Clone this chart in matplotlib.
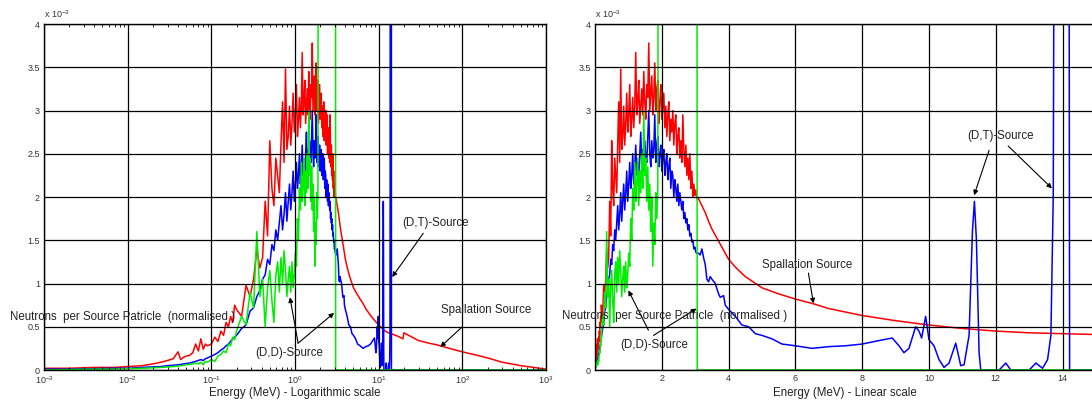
import matplotlib
matplotlib.use("Agg")
import matplotlib.pyplot as plt
from matplotlib.ticker import LogLocator, FuncFormatter, NullFormatter, MultipleLocator

plt.rcParams["font.family"] = ["Liberation Sans", "DejaVu Sans"]
plt.rcParams["mathtext.default"] = "regular"

# values are in units of 1e-3 (neutrons per source particle, normalised)
# energies in MeV; shared grid below 3.05 MeV
e_low = [0.001, 0.002, 0.004, 0.007, 0.01, 0.015, 0.02, 0.025,
         0.03, 0.035, 0.04, 0.043, 0.047, 0.05, 0.055, 0.06,
         0.065, 0.07, 0.075, 0.08, 0.085, 0.09, 0.1, 0.11,
         0.12, 0.13, 0.14, 0.15, 0.16, 0.17, 0.18, 0.19]

e_mid = [0.20, 0.23, 0.26, 0.29, 0.32, 0.35, 0.38, 0.41,
         0.44, 0.47, 0.50, 0.53, 0.56, 0.59, 0.62, 0.65,
         0.68, 0.71, 0.74, 0.77, 0.80, 0.83, 0.86, 0.89,
         0.92, 0.95, 0.98, 1.01, 1.04, 1.07, 1.10, 1.13,
         1.16, 1.19, 1.22, 1.25, 1.28, 1.31, 1.34, 1.37,
         1.40, 1.43, 1.46, 1.49, 1.52, 1.55, 1.58, 1.61,
         1.64, 1.67, 1.70, 1.73, 1.76, 1.79, 1.82, 1.85,
         1.88, 1.91, 1.94, 1.97, 2.00, 2.03, 2.06, 2.09,
         2.12, 2.15, 2.18, 2.21, 2.24, 2.27, 2.30, 2.33,
         2.36, 2.39, 2.42, 2.45, 2.48, 2.51, 2.54, 2.57,
         2.60, 2.63, 2.66, 2.69, 2.72, 2.75, 2.78, 2.81,
         2.84, 2.87, 2.90, 2.93, 2.96, 2.99, 3.02, 3.05]

# Spallation source (red)
red_low = [0.02, 0.02, 0.03, 0.03, 0.04, 0.05, 0.07, 0.09,
           0.11, 0.13, 0.21, 0.12, 0.15, 0.16, 0.17, 0.20,
           0.30, 0.22, 0.36, 0.24, 0.30, 0.28, 0.30, 0.38,
           0.33, 0.45, 0.40, 0.55, 0.50, 0.62, 0.55, 0.75]
red_mid = [0.70, 0.62, 0.98, 0.85, 1.05, 1.40, 1.18, 1.30,
           1.95, 1.55, 2.65, 2.10, 1.90, 2.45, 2.25, 2.05,
           2.62, 3.10, 2.40, 3.48, 2.55, 2.70, 3.05, 2.60,
           2.85, 3.20, 2.75, 2.95, 3.30, 2.70, 2.90, 3.15,
           2.80, 3.05, 3.67, 2.95, 3.10, 3.35, 2.85, 3.05,
           3.25, 2.95, 3.45, 3.10, 2.90, 3.30, 3.15, 3.78,
           3.00, 3.20, 3.40, 2.95, 3.15, 3.55, 3.00, 3.25,
           3.35, 2.85, 3.10, 3.30, 2.90, 3.05, 3.20, 2.80,
           3.05, 2.70, 2.95, 3.10, 2.65, 2.90, 2.75, 3.00,
           2.60, 2.85, 2.95, 2.50, 2.70, 2.80, 2.45, 2.65,
           2.40, 2.95, 2.55, 2.35, 2.60, 2.25, 2.45, 2.20,
           2.50, 2.10, 2.30, 2.00, 2.15, 2.02, 2.08, 1.98]
red_tail_e = [3.1, 3.2, 3.3, 3.4, 3.5, 3.6, 3.8, 4.0, 4.2, 4.5,
              5.0, 5.5, 6.0, 6.5, 7.0, 8.0, 9.0, 10, 11, 12, 13, 14, 15,
              17, 19.5, 20, 25, 30, 40, 50, 70,
              100, 150, 200, 300, 500, 700, 1000]
red_tail = [1.98, 1.90, 1.82, 1.72, 1.63, 1.56, 1.42, 1.28, 1.19, 1.08,
            0.95, 0.88, 0.82, 0.77, 0.71, 0.63, 0.57, 0.52, 0.48, 0.45, 0.43, 0.42, 0.41,
            0.39, 0.36, 0.43, 0.38, 0.34, 0.31, 0.29, 0.25,
            0.21, 0.17, 0.14, 0.09, 0.05, 0.03, 0.01]

# (D,T) source (blue)
blue_low = [0.01, 0.01, 0.015, 0.02, 0.02, 0.03, 0.035, 0.04,
            0.05, 0.055, 0.06, 0.065, 0.07, 0.075, 0.08, 0.09,
            0.10, 0.11, 0.12, 0.11, 0.13, 0.14, 0.16, 0.18,
            0.20, 0.23, 0.25, 0.28, 0.30, 0.33, 0.36, 0.38]
blue_mid = [0.40, 0.48, 0.52, 0.68, 0.72, 0.85, 0.92, 1.05,
            1.10, 1.28, 1.22, 1.45, 1.38, 1.62, 1.50, 1.70,
            1.90, 1.62, 1.80, 2.05, 1.72, 1.95, 2.15, 1.85,
            2.05, 2.30, 1.95, 2.15, 2.40, 2.10, 2.25, 2.50,
            2.15, 2.35, 2.60, 2.25, 2.40, 2.20, 2.50, 2.75,
            2.35, 2.55, 2.30, 2.65, 2.45, 2.40, 2.70, 3.00,
            2.50, 2.35, 2.65, 2.45, 2.55, 2.95, 2.40, 2.60,
            2.70, 2.35, 2.50, 2.60, 2.30, 2.45, 2.55, 2.25,
            2.40, 2.50, 2.20, 2.35, 2.45, 2.10, 2.30, 2.25,
            2.00, 2.20, 2.10, 1.95, 2.15, 1.90, 2.05, 1.95,
            1.85, 1.95, 1.75, 1.82, 1.70, 1.75, 1.62, 1.68,
            1.55, 1.58, 1.48, 1.50, 1.40, 1.42, 1.36, 1.35]
blue_tail_e = [3.1, 3.15, 3.2, 3.25, 3.3, 3.35, 3.4, 3.45, 3.5, 3.6,
               3.7, 3.75, 3.85, 3.9, 4.0, 4.2, 4.4, 4.6, 4.8, 5.0,
               5.3, 5.6, 6.0, 6.5, 7.0, 7.5, 8.0, 8.5, 8.9, 9.1,
               9.25, 9.4, 9.6, 9.7, 9.78, 9.9, 10.0, 10.15, 10.3, 10.45,
               10.6, 10.8, 10.95, 11.05, 11.2, 11.3, 11.36, 11.42, 11.5, 11.55,
               12.1, 12.3, 12.45, 13.0, 13.2, 13.4, 13.55, 13.65, 13.72, 13.78,
               14.18, 14.21, 1000]
blue_tail = [1.35, 1.33, 1.40, 1.30, 1.22, 1.05, 1.02, 1.08, 1.05, 1.00,
             0.88, 0.84, 0.86, 0.75, 0.70, 0.62, 0.52, 0.50, 0.42, 0.40,
             0.36, 0.30, 0.28, 0.25, 0.27, 0.28, 0.30, 0.34, 0.37, 0.28,
             0.20, 0.25, 0.50, 0.45, 0.37, 0.62, 0.35, 0.28, 0.12, 0.03,
             0.08, 0.31, 0.05, 0.06, 0.40, 1.60, 1.95, 1.50, 0.20, 0.0,
             0.0, 0.08, 0.0, 0.0, 0.08, 0.02, 0.12, 0.40, 2.00, 10.0,
             10.0, 0.0, 0.0]

# (D,D) source (green), shares e_mid up to 1.88 MeV
green_low = [0.0, 0.005, 0.01, 0.01, 0.015, 0.02, 0.025, 0.03,
             0.035, 0.04, 0.045, 0.05, 0.055, 0.06, 0.065, 0.07,
             0.08, 0.07, 0.09, 0.06, 0.10, 0.09, 0.12, 0.10,
             0.16, 0.18, 0.22, 0.20, 0.30, 0.28, 0.38, 0.35]
green_mid = [0.45, 0.62, 0.52, 0.90, 0.72, 1.60, 0.85, 1.05,
             0.50, 0.95, 1.15, 0.80, 0.55, 1.10, 1.25, 0.90,
             1.30, 1.00, 1.38, 1.15, 0.85, 1.05, 1.20, 0.90,
             1.25, 0.95, 1.10, 1.35, 1.20, 1.75, 1.50, 2.10,
             1.85, 2.40, 1.95, 2.15, 2.45, 1.90, 2.30, 2.05,
             2.50, 2.10, 3.00, 2.25, 2.45, 1.95, 2.35, 1.85,
             2.15, 1.60, 2.00, 1.20, 1.70, 1.45, 2.05, 1.75,
             2.10]
green_tail_e = [1.91, 3.05, 3.06, 1000]
green_tail = [10.0, 10.0, 0.0, 0.0]

red_e = e_low + e_mid + red_tail_e
red_v = red_low + red_mid + red_tail
blue_e = e_low + e_mid + blue_tail_e
blue_v = blue_low + blue_mid + blue_tail
green_e = e_low + e_mid[:len(green_mid)] + green_tail_e
green_v = green_low + green_mid + green_tail

log_ticks = [1e-3, 1e-2, 1e-1, 1e0, 1e1, 1e2, 1e3]
lin_ticks = [2, 4, 6, 8, 10, 12, 14]

W, H = 1092, 401
fig = plt.figure(figsize=(W / 100, H / 100), dpi=100)


def px_box(x0, x1, ytop, ybot):
    return [x0 / W, 1 - ybot / H, (x1 - x0) / W, (ybot - ytop) / H]


ax1 = fig.add_axes(px_box(44, 546, 24, 370))
ax2 = fig.add_axes(px_box(595, 1096, 24, 370))

label_col = "#222222"
tick_col = "#333333"
arrow = dict(arrowstyle="-|>", color="black", lw=0.8, mutation_scale=7,
             shrinkA=0, shrinkB=0)

for ax in (ax1, ax2):
    ax.plot(red_e, red_v, color="#ff0000", lw=1.1)
    ax.plot(blue_e, blue_v, color="#0000ff", lw=1.1)
    ax.plot(green_e, green_v, color="#00ee00", lw=1.1)
    ax.set_ylim(0, 4)
    ax.yaxis.set_major_locator(MultipleLocator(0.5))
    ax.yaxis.set_major_formatter(FuncFormatter(lambda v, p: "%g" % v))
    ax.grid(True, which="major", color="black", lw=0.9)
    ax.set_axisbelow(False)
    ax.tick_params(which="both", direction="in", top=True, right=True,
                   labelsize=6.5, labelcolor=tick_col, width=0.6)
    ax.tick_params(which="major", length=3, pad=3)
    ax.tick_params(which="minor", length=2)
    for s in ax.spines.values():
        s.set_linewidth(1.0)
    ax.text(0, 1.012, r"x 10$^{-3}$", transform=ax.transAxes, fontsize=6.5,
            color=tick_col, ha="left", va="bottom")

# left panel: log energy scale
ax1.set_xscale("log")
ax1.set_xlim(1e-3, 1e3)
ax1.set_xticks(log_ticks)
ax1.xaxis.set_minor_locator(LogLocator(base=10, subs=range(2, 10), numticks=10))
ax1.xaxis.set_minor_formatter(NullFormatter())

ax1.text(19.1, 1.70, "(D,T)-Source", fontsize=8.3, color=label_col, va="center")
ax1.annotate("", xy=(14.5, 1.075), xytext=(34.1, 1.58), arrowprops=arrow)
ax1.text(56.1, 0.69, "Spallation Source", fontsize=8.3, color=label_col, va="center")
ax1.annotate("", xy=(54.5, 0.266), xytext=(100, 0.50), arrowprops=arrow)
ax1.text(0.332, 0.197, "(D,D)-Source", fontsize=8.3, color=label_col, va="center")
ax1.annotate("", xy=(0.87, 0.84), xytext=(1.09, 0.31), arrowprops=arrow)
ax1.annotate("", xy=(2.93, 0.66), xytext=(1.09, 0.31), arrowprops=arrow)

# right panel: linear energy scale
ax2.set_xlim(0, 15)
ax2.set_xticks(lin_ticks)

ax2.text(11.14, 2.71, "(D,T)-Source", fontsize=8.3, color=label_col, va="center")
ax2.annotate("", xy=(11.35, 2.02), xytext=(11.80, 2.54), arrowprops=arrow)
ax2.annotate("", xy=(13.68, 2.10), xytext=(12.37, 2.59), arrowprops=arrow)
ax2.text(5.01, 1.21, "Spallation Source", fontsize=8.3, color=label_col, va="center")
ax2.annotate("", xy=(6.54, 0.77), xytext=(6.39, 1.12), arrowprops=arrow)
ax2.text(0.75, 0.29, "(D,D)-Source", fontsize=8.3, color=label_col, va="center")
ax2.annotate("", xy=(1.0, 0.92), xytext=(1.60, 0.46), arrowprops=arrow)
ax2.annotate("", xy=(3.04, 0.71), xytext=(1.75, 0.40), arrowprops=arrow)

# axis labels (the y label sits horizontally across the plot, as in the scan)
ylab = "Neutrons  per Source Patricle  (normalised )"
fig.text(10 / W, 1 - 317 / H, ylab, fontsize=8.3, color=label_col, va="center")
fig.text(562 / W, 1 - 316 / H, ylab, fontsize=8.3, color=label_col, va="center")
fig.text(295 / W, 1 - 393 / H, "Energy (MeV) - Logarithmic scale", fontsize=8.3,
         color=label_col, ha="center", va="center")
fig.text(845 / W, 1 - 393 / H, "Energy (MeV) - Linear scale", fontsize=8.3,
         color=label_col, ha="center", va="center")

fig.savefig("out.png", dpi=100)
